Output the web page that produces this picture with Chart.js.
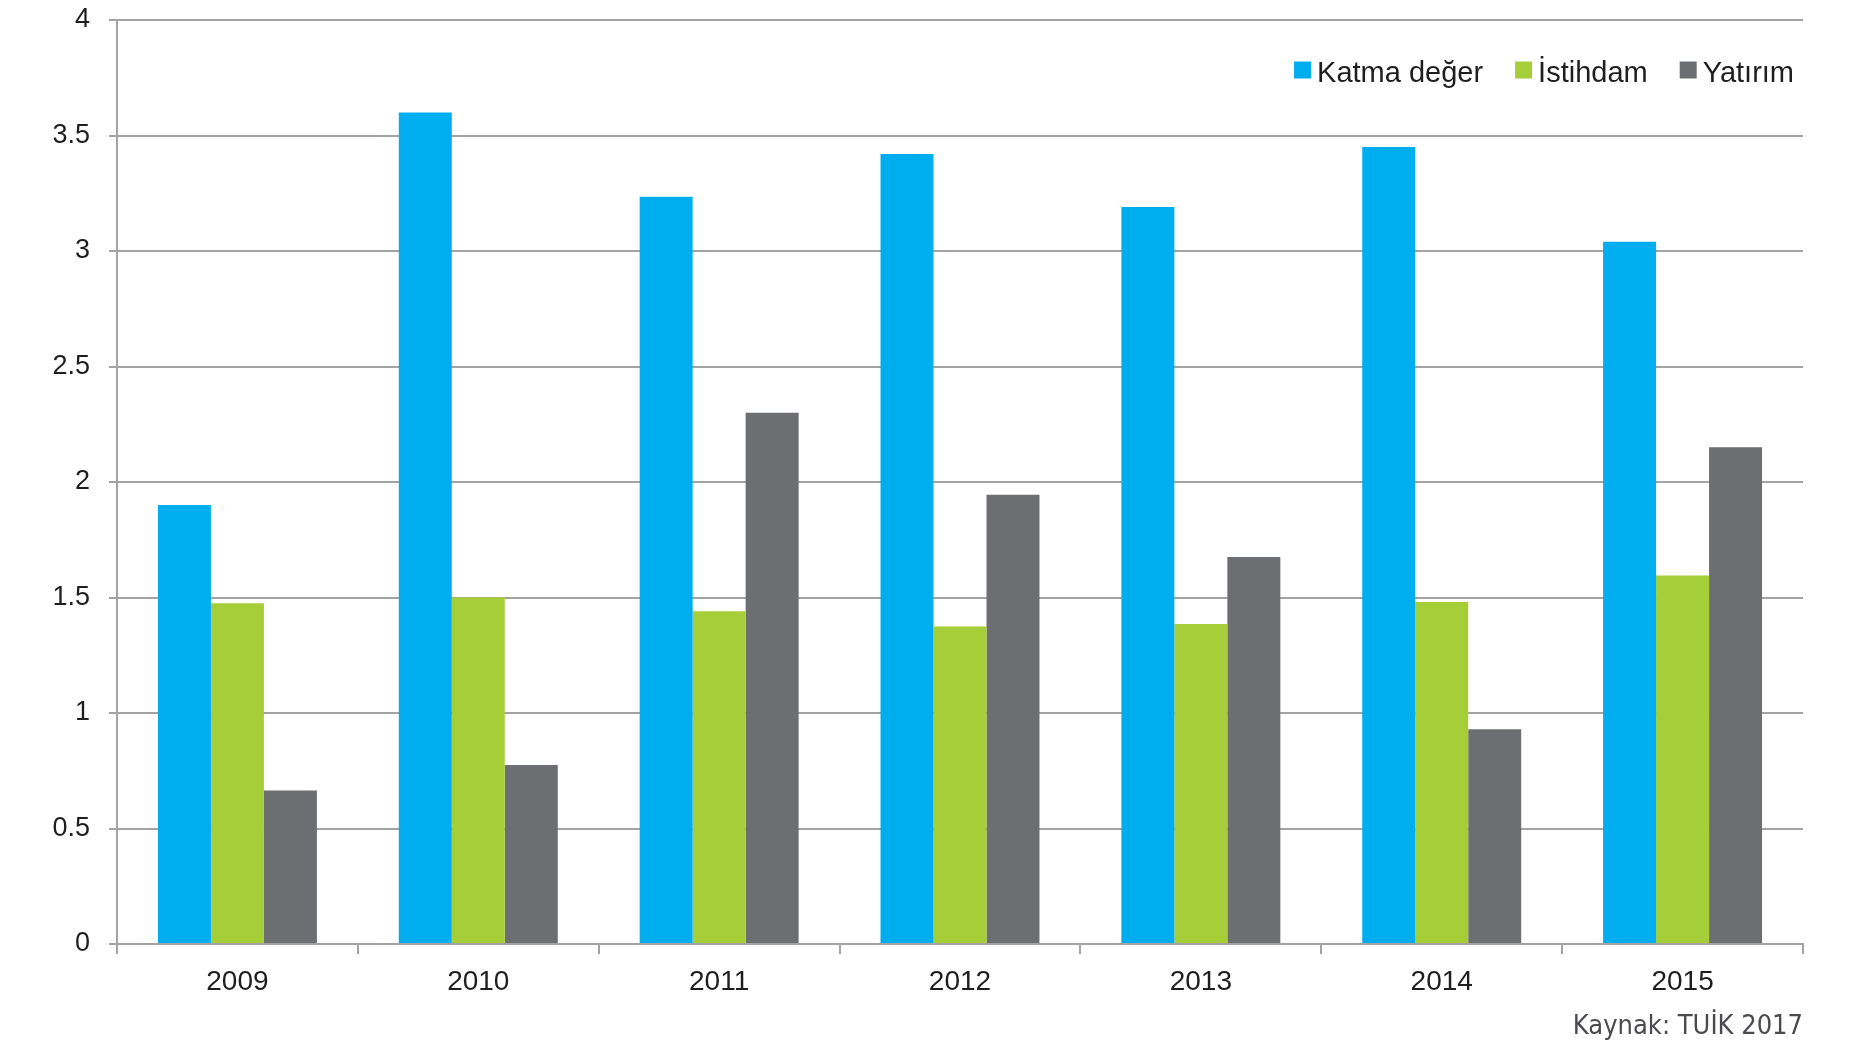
<!DOCTYPE html>
<html>
<head>
<meta charset="utf-8">
<script src="https://cdn.jsdelivr.net/npm/chart.js@4/dist/chart.umd.min.js"></script>
<style>
  html, body { margin: 0; padding: 0; background: #fff; }
  #wrap { width: 1865px; height: 1051px; }
</style>
</head>
<body>
<div id="wrap"><canvas id="chart"></canvas></div>
<script>
const years = ["2009", "2010", "2011", "2012", "2013", "2014", "2015"]
const katmaDeger = [1.90, 3.60, 3.235, 3.42, 3.19, 3.45, 3.04]
const istihdam = [1.475, 1.50, 1.44, 1.375, 1.385, 1.48, 1.595]
const yatirim = [0.665, 0.775, 2.30, 1.945, 1.675, 0.93, 2.15]
const yTicks = [0, 0.5, 1, 1.5, 2, 2.5, 3, 3.5, 4]
const source = "Kaynak: TUİK 2017"

const gridColor = "#a3a3a3"
const textColor = "#1e1e1e"
const baseFont = "Liberation Sans, Arial, sans-serif"

// legend drawn inside the plot area, top right
const innerLegend = {
  id: "innerLegend",
  afterDraw(chart) {
    const { ctx, chartArea } = chart
    const box = 17, gap = 6, itemGap = 32
    ctx.save()
    ctx.font = `29px ${baseFont}`
    ctx.textBaseline = "middle"
    let x = chartArea.right - 9
    const y = chartArea.top + 53
    const sets = chart.data.datasets.slice().reverse()
    sets.forEach(ds => {
      const w = ctx.measureText(ds.label).width
      ctx.fillStyle = textColor
      ctx.textAlign = "left"
      ctx.fillText(ds.label, x - w, y + 1)
      ctx.fillStyle = ds.backgroundColor
      ctx.fillRect(x - w - gap - box, y - box / 2 - 3, box, box)
      x = x - w - gap - box - itemGap
    })
    ctx.restore()
  }
}

new Chart(document.getElementById("chart").getContext("2d"), {
  type: "bar",
  data: {
    labels: years,
    datasets: [
      { label: "Katma değer", data: katmaDeger, backgroundColor: "#00aeef" },
      { label: "İstihdam", data: istihdam, backgroundColor: "#a6ce39" },
      { label: "Yatırım", data: yatirim, backgroundColor: "#6d6e71" }
    ]
  },
  plugins: [innerLegend],
  options: {
    responsive: true,
    maintainAspectRatio: false,
    animation: false,
    datasets: { bar: { categoryPercentage: 0.66, barPercentage: 1.0 } },
    layout: { padding: { left: 0, right: 62, top: 20, bottom: 0 } },
    plugins: {
      tooltip: { enabled: false },
      legend: { display: false },
      title: {
        display: true,
        text: source,
        position: "bottom",
        align: "end",
        color: "#4a4a4f",
        font: { family: "DejaVu Sans Condensed, sans-serif", size: 27, weight: "normal" },
        padding: { top: 1, bottom: 8 }
      }
    },
    scales: {
      x: {
        grid: { drawOnChartArea: false, drawTicks: true, tickLength: 10, color: gridColor, lineWidth: 2 },
        border: { color: gridColor, width: 2 },
        ticks: {
          color: textColor,
          font: { family: baseFont, size: 28 },
          padding: 11
        }
      },
      y: {
        min: 0,
        max: 4,
        afterBuildTicks: (scale) => { scale.ticks = yTicks.map(v => ({ value: v })) },
        afterFit: (scale) => {
          scale.width = 117
          scale.paddingTop = 0
          scale.paddingBottom = 0
        },
        grid: { color: gridColor, lineWidth: 2, tickLength: 8 },
        border: { color: gridColor, width: 2 },
        ticks: {
          color: textColor,
          font: { family: baseFont, size: 27 },
          padding: 19,
          callback: (v) => `${v}`
        }
      }
    }
  }
})
</script>
</body>
</html>
